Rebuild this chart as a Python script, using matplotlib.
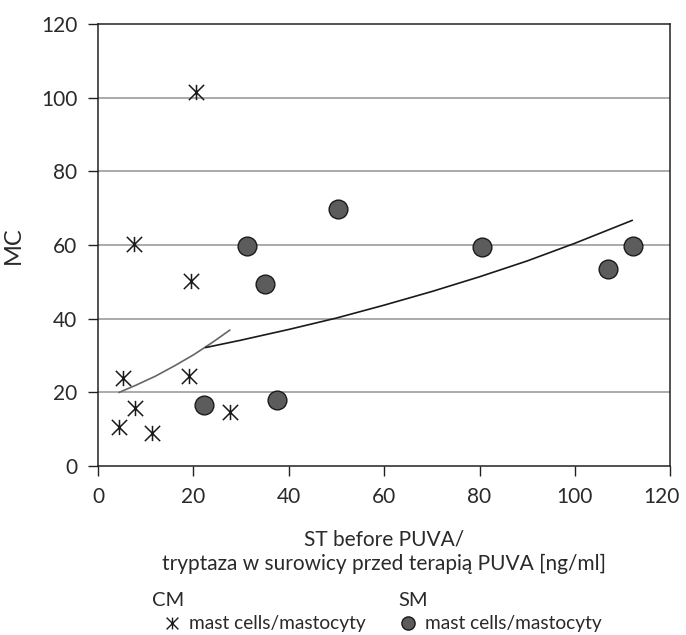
import numpy as np
import matplotlib
matplotlib.use('Agg')
import matplotlib.pyplot as plt
from matplotlib.path import Path
from matplotlib.lines import Line2D
from matplotlib.transforms import ScaledTranslation

# CM patients: serum tryptase vs mast cells
cm_st = [20.6, 7.5, 19.4, 5.3, 19.1, 7.7, 4.4, 11.4, 27.6]
cm_mc = [101.5, 60.2, 50.2, 24.0, 24.4, 15.9, 10.7, 8.9, 14.7]

# SM patients
sm_st = [22.3, 37.6, 31.3, 35.1, 50.3, 80.6, 107.0, 112.1]
sm_mc = [16.6, 17.9, 59.8, 49.5, 69.7, 59.5, 53.4, 59.8]

# trend curves
cm_fit_x = [4.4, 8, 12, 16, 20, 24, 27.6]
cm_fit_y = [20.0, 22.0, 24.4, 27.2, 30.2, 33.6, 36.9]
sm_fit_x = [22.6, 30, 40, 50, 60, 70, 80, 90, 100, 112]
sm_fit_y = [32.2, 34.2, 37.1, 40.2, 43.7, 47.4, 51.4, 55.7, 60.5, 66.7]

ticks = [0, 20, 40, 60, 80, 100, 120]

plt.rcParams['font.family'] = ['Lato', 'DejaVu Sans']
fontsize = 14.5
plt.rcParams['font.size'] = fontsize
txtcol = '#2a2a2a'

# asterisk marker: an X with a vertical bar through it
star = Path([(0, -1), (0, 1), (-1, -1), (1, 1), (-1, 1), (1, -1)],
            [Path.MOVETO, Path.LINETO, Path.MOVETO, Path.LINETO, Path.MOVETO, Path.LINETO])

fig = plt.figure(figsize=(6.86, 6.35), dpi=100)
ax = fig.add_axes([0.143, 0.266, 0.834, 0.696])

for y in ticks[1:-1]:
    ax.axhline(y, color='#aaaaaa', lw=1.4, zorder=0)

ax.plot(cm_fit_x, cm_fit_y, color='#666666', lw=1.2, zorder=2)
ax.plot(sm_fit_x, sm_fit_y, color='#1a1a1a', lw=1.2, zorder=2)

ax.plot(cm_st, cm_mc, ls='none', marker=star, markersize=11,
        markerfacecolor='none', markeredgecolor='#1a1a1a', markeredgewidth=1.1, zorder=3)
ax.plot(sm_st, sm_mc, ls='none', marker='o', markersize=13.5,
        markerfacecolor='#5c5c5c', markeredgecolor='#1a1a1a', markeredgewidth=1.0, zorder=3)

ax.set_xlim(0, 120)
ax.set_ylim(0, 120)
ax.set_xticks(ticks)
ax.set_yticks(ticks)
ax.tick_params(direction='out', length=7, width=1, labelsize=15, pad=8,
               color='#222222', labelcolor=txtcol)
for s in ax.spines.values():
    s.set_color('#222222')
    s.set_linewidth(1.1)

# nudge the last x label so it stays inside the figure
last = ax.get_xticklabels()[-1]
last.set_transform(last.get_transform() + ScaledTranslation(-6 / 72, 0, fig.dpi_scale_trans))

ax.set_ylabel('MC', fontsize=17, labelpad=12, color=txtcol)
ax.set_xlabel('ST before PUVA/\ntryptaza w surowicy przed terapią PUVA [ng/ml]',
              fontsize=15, labelpad=16, linespacing=1.3, color=txtcol)

# legend below the plot
fig.text(152 / 686, 1 - 600 / 635, 'CM', fontsize=fontsize, va='center', ha='left', color=txtcol)
fig.text(398 / 686, 1 - 600 / 635, 'SM', fontsize=fontsize, va='center', ha='left', color=txtcol)
cm_h = Line2D([], [], ls='none', marker=star, markersize=8.5, markerfacecolor='none',
              markeredgecolor='#1a1a1a', markeredgewidth=1.0)
sm_h = Line2D([], [], ls='none', marker='o', markersize=9.5, markerfacecolor='#5c5c5c',
              markeredgecolor='#1a1a1a', markeredgewidth=1.0)
fig.legend([cm_h, sm_h], ['mast cells/mastocyty', 'mast cells/mastocyty'],
           ncol=2, frameon=False, loc='center left',
           bbox_to_anchor=(162 / 686, 1 - 624 / 635), fontsize=13.8,
           handlelength=1.0, handletextpad=0.4, columnspacing=1.7,
           borderaxespad=0, borderpad=0, labelcolor=txtcol)

plt.savefig('out.png', dpi=100)
